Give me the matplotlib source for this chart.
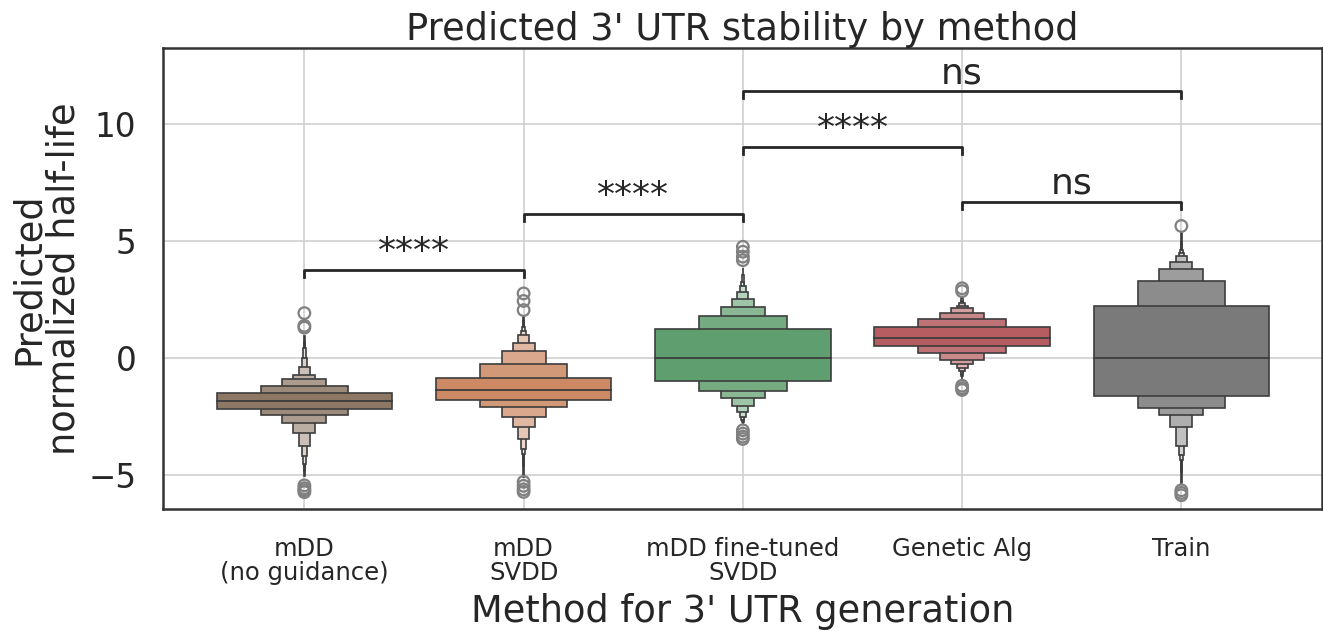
import colorsys
import numpy as np
import matplotlib
matplotlib.use("Agg")
import matplotlib.pyplot as plt
import matplotlib.colors as mcolors

# categories and colours (seaborn "deep" hues, desaturated like seaborn does)
methods = ["mDD\n(no guidance)", "mDD\nSVDD", "mDD fine-tuned\nSVDD", "Genetic Alg", "Train"]
base_colors = ["#937860", "#DD8452", "#55A868", "#C44E52", "#7a7a7a"]

# letter-value box edges, innermost level first
upper = [
    [-1.47, -1.20, -0.90, -0.70, -0.37, -0.01, 0.42, 0.70, 0.94],
    [-0.83, -0.26, 0.31, 0.65, 0.97, 1.15, 1.34, 1.58, 1.80],
    [1.23, 1.79, 2.17, 2.51, 2.81, 3.08, 3.26, 3.55, 3.83],
    [1.34, 1.65, 1.94, 2.12, 2.24, 2.34, 2.45, 2.55, 2.62],
    [2.22, 3.28, 3.79, 4.09, 4.36, 4.50, 4.62, 4.95, 5.33],
]
lower = [
    [-2.18, -2.44, -2.76, -3.21, -3.76, -4.19, -4.50, -4.80, -5.04],
    [-1.79, -2.08, -2.51, -2.96, -3.43, -3.86, -4.10, -4.60, -5.07],
    [-0.97, -1.41, -1.72, -2.05, -2.32, -2.51, -2.62, -2.72, -2.82],
    [0.51, 0.20, -0.06, -0.27, -0.44, -0.56, -0.66, -0.77, -0.87],
    [-1.61, -2.11, -2.44, -2.96, -3.73, -4.15, -4.36, -4.85, -5.35],
]
medians = [-1.84, -1.34, 0.01, 0.88, 0.0]
outliers = [
    [1.92, 1.38, 1.30, -5.43, -5.55, -5.64, -5.72],
    [2.76, 2.44, 2.05, -5.28, -5.45, -5.60, -5.71],
    [4.75, 4.54, 4.33, 4.18, -3.08, -3.22, -3.35, -3.45],
    [2.98, 2.86, -1.18, -1.28, -1.36],
    [5.64, -5.64, -5.75, -5.85],
]

# significance brackets: (left, right), height, label
pairs = [(0, 1), (1, 2), (3, 4), (2, 3), (2, 4)]
pair_heights = [3.76, 6.15, 6.65, 9.0, 11.38]
pair_labels = ["****", "****", "ns", "****", "ns"]


def desat(c, prop=0.75):
    h, l, s = colorsys.rgb_to_hls(*mcolors.to_rgb(c))
    return colorsys.hls_to_rgb(h, l, s * prop)


edge = "#3d3d3d"
txt = "#262626"
fig = plt.figure(figsize=(13.23, 6.35), dpi=100)
ax = fig.add_axes([0.123, 0.198, 0.876, 0.727])

ax.grid(True, color="#d0d0d0", lw=1.2, zorder=0)
ax.set_axisbelow(True)

for i in range(len(methods)):
    main = np.array(desat(base_colors[i]))
    n = len(upper[i])
    # outermost boxes first so inner ones sit on top
    for k in range(n - 1, -1, -1):
        frac = min(k / 7.5, 0.95)
        col = main + (1 - main) * frac
        lo, hi = lower[i][k], upper[i][k]
        ax.bar(i, hi - lo, bottom=lo, width=0.8 / 2 ** k, color=col,
               edgecolor=edge, linewidth=1.2, zorder=2)
    ax.plot([i - 0.4, i + 0.4], [medians[i]] * 2, color=edge, lw=1.3, zorder=3)
    ax.scatter([i] * len(outliers[i]), outliers[i], s=70, facecolors="none",
               edgecolors="#808080", linewidths=1.6, zorder=3)

for (a, b), h, lab in zip(pairs, pair_heights, pair_labels):
    t = 0.3
    ax.plot([a, a, b, b], [h - t, h, h, h - t], color=txt, lw=2, zorder=4)
    ax.annotate(lab, xy=((a + b) / 2, h), xytext=(0, 1), textcoords="offset points",
                ha="center", va="bottom", fontsize=26, color=txt)

ax.set_xlim(-0.646, 4.64)
ax.set_ylim(-6.45, 13.25)
ax.set_xticks(range(len(methods)))
ax.set_xticklabels(methods, fontsize=17.5, color=txt, linespacing=1.0)
ax.set_yticks([-5, 0, 5, 10])
ax.set_yticklabels(["\u22125", "0", "5", "10"], fontsize=23.5, color=txt)
ax.tick_params(length=0)
ax.tick_params(axis="x", pad=20)
ax.tick_params(axis="y", pad=19)
for s in ax.spines.values():
    s.set_color("#333333")
    s.set_linewidth(1.8)

ax.set_title("Predicted 3' UTR stability by method", fontsize=26.5, color=txt, pad=4)
ax.set_xlabel("Method for 3' UTR generation", fontsize=26.5, color=txt, labelpad=6)
ax.set_ylabel("Predicted\nnormalized half-life", fontsize=26.5, color=txt,
              linespacing=0.95, labelpad=4)

fig.savefig("out.png", dpi=100)
